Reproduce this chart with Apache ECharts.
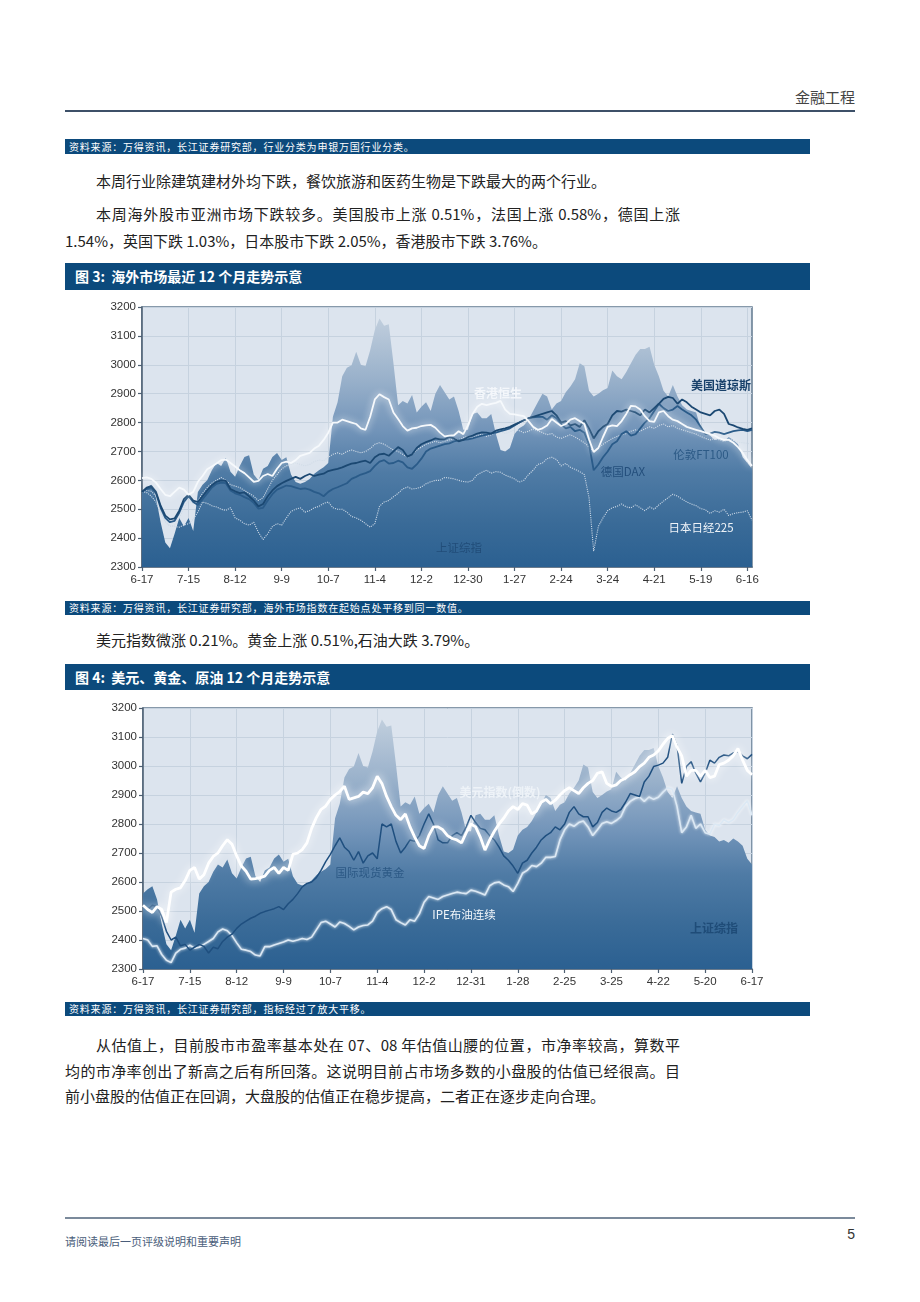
<!DOCTYPE html>
<html><head><meta charset="utf-8">
<script src="https://cdn.jsdelivr.net/npm/echarts@6/dist/echarts.min.js"></script>
<style>
html,body{margin:0;padding:0;background:#fff;}
body{width:920px;height:1302px;position:relative;overflow:hidden;font-family:"Noto Sans CJK SC","Liberation Sans",sans-serif;color:#222;}
.abs{position:absolute;}
.bar{position:absolute;left:65px;width:745px;background:#0c4a7c;color:#fff;box-sizing:border-box;}
.src{height:15px;line-height:15px;font-size:10px;padding-left:4px;letter-spacing:0.8px;}
.ttl{height:27px;line-height:27px;font-size:14px;font-weight:bold;padding-left:10px;}
.p{position:absolute;left:65px;font-size:15px;white-space:nowrap;}
.j{width:615px;text-align:justify;text-align-last:justify;}
</style></head>
<body>
<div class="abs" style="right:65px;top:86px;font-size:15px;color:#444;">金融工程</div>
<div class="abs" style="left:65px;top:110px;width:790px;height:1.5px;background:#3d5068;"></div>
<div class="bar src" style="top:139px;">资料来源：万得资讯，长江证券研究部，行业分类为申银万国行业分类。</div>
<div class="p" style="top:170px;padding-left:31px;">本周行业除建筑建材外均下跌，餐饮旅游和医药生物是下跌最大的两个行业。</div>
<div class="p j" style="top:203px;padding-left:31px;width:584px;">本周海外股市亚洲市场下跌较多。美国股市上涨 0.51%，法国上涨 0.58%，德国上涨</div>
<div class="p" style="top:230px;">1.54%，英国下跌 1.03%，日本股市下跌 2.05%，香港股市下跌 3.76%。</div>
<div class="bar ttl" style="top:263px;">图 3:&nbsp; 海外市场最近 12 个月走势示意</div>
<div id="c1" class="abs" style="left:60px;top:295px;width:740px;height:300px;"></div>
<div class="bar src" style="top:601px;height:14px;line-height:14px;">资料来源：万得资讯，长江证券研究部，海外市场指数在起始点处平移到同一数值。</div>
<div class="p" style="top:629px;padding-left:31px;">美元指数微涨 0.21%。黄金上涨 0.51%,石油大跌 3.79%。</div>
<div class="bar ttl" style="top:664px;height:26px;line-height:26px;">图 4:&nbsp; 美元、黄金、原油 12 个月走势示意</div>
<div id="c2" class="abs" style="left:60px;top:695px;width:740px;height:300px;"></div>
<div class="bar src" style="top:1002px;height:14px;line-height:14px;">资料来源：万得资讯，长江证券研究部，指标经过了放大平移。</div>
<div class="p j" style="top:1034px;padding-left:31px;width:584px;">从估值上，目前股市市盈率基本处在 07、08 年估值山腰的位置，市净率较高，算数平</div>
<div class="p j" style="top:1060px;">均的市净率创出了新高之后有所回落。这说明目前占市场多数的小盘股的估值已经很高。目</div>
<div class="p" style="top:1085px;">前小盘股的估值正在回调，大盘股的估值正在稳步提高，二者正在逐步走向合理。</div>
<div class="abs" style="left:65px;top:1217px;width:790px;height:1.5px;background:#7b8a9b;"></div>
<div class="abs" style="left:65px;top:1233px;font-size:11px;color:#4a5d7a;">请阅读最后一页评级说明和重要声明</div>
<div class="abs" style="right:65px;top:1226px;font-size:14px;color:#333;font-family:'Liberation Sans';">5</div>
<script>
// ---------- data ----------
const tickLabels1 = ['6-17','7-15','8-12','9-9','10-7','11-4','12-2','12-30','1-27','2-24','3-24','4-21','5-19','6-16'];
const tickLabels2 = ['6-17','7-15','8-12','9-9','10-7','11-4','12-2','12-31','1-28','2-25','3-25','4-22','5-20','6-17'];

const shComposite = [
2560,2575,2585,2540,2455,2385,2365,2415,2470,2440,
2470,2425,2560,2585,2600,2635,2660,2650,2678,2630,
2612,2650,2681,2687,2620,2600,2640,2650,2681,2695,
2670,2680,2620,2594,2588,2594,2605,2623,2635,2645,
2660,2820,2870,2960,2990,2998,3045,3000,2995,3050,
3120,3160,3135,3140,3005,2860,2875,2866,2895,2835,
2855,2870,2840,2900,2930,2905,2880,2890,2840,2775,
2775,2830,2835,2815,2815,2830,2760,2705,2700,2712,
2760,2780,2790,2810,2840,2870,2900,2890,2845,2866,
2875,2905,2925,2950,3005,2995,2910,2890,2900,2912,
2920,2980,2960,2950,2975,3005,3035,3055,3055,3062,
3000,2960,2910,2890,2930,2890,2860,2845,2840,2835,
2780,2760,2755,2740,2745,2735,2750,2740,2725,2680,
2660,2640];

const hangSeng = [
2608,2610,2605,2592,2570,2550,2545,2560,2575,2568,
2550,2560,2595,2615,2638,2648,2658,2670,2672,2660,
2648,2635,2625,2610,2595,2598,2615,2622,2615,2640,
2660,2665,2660,2670,2685,2690,2695,2710,2720,2740,
2765,2800,2800,2810,2805,2800,2795,2780,2775,2820,
2880,2898,2888,2880,2835,2812,2788,2772,2780,2782,
2788,2790,2792,2782,2765,2752,2755,2756,2770,2760,
2790,2830,2855,2865,2860,2865,2868,2875,2845,2830,
2828,2825,2822,2805,2785,2775,2780,2790,2812,2800,
2788,2795,2810,2815,2805,2795,2742,2698,2712,2750,
2785,2790,2788,2805,2830,2858,2856,2845,2822,2805,
2802,2835,2840,2822,2810,2805,2795,2785,2780,2775,
2770,2765,2760,2755,2745,2740,2740,2730,2715,2695,
2670,2650];

const dowJones = [
2560,2575,2580,2560,2512,2478,2465,2468,2495,2535,
2550,2530,2525,2545,2565,2583,2595,2600,2598,2570,
2562,2556,2558,2545,2530,2510,2518,2545,2565,2580,
2590,2598,2605,2612,2605,2615,2622,2615,2620,2623,
2632,2636,2640,2645,2652,2658,2660,2665,2668,2660,
2680,2690,2692,2685,2700,2715,2705,2682,2690,2712,
2725,2732,2738,2745,2742,2742,2750,2745,2735,2740,
2750,2755,2762,2766,2765,2762,2772,2776,2780,2785,
2793,2800,2808,2815,2820,2825,2830,2835,2840,2825,
2800,2805,2790,2795,2785,2808,2780,2745,2770,2785,
2795,2825,2840,2838,2845,2840,2835,2825,2845,2835,
2850,2865,2882,2889,2885,2865,2880,2870,2855,2845,
2835,2830,2825,2840,2845,2830,2795,2790,2783,2778,
2775,2780];

const dax = [
2560,2570,2575,2555,2505,2470,2455,2460,2488,2525,
2545,2525,2515,2535,2555,2575,2588,2592,2590,2565,
2555,2550,2542,2535,2522,2502,2505,2530,2552,2568,
2575,2582,2580,2575,2570,2572,2568,2560,2555,2545,
2560,2570,2576,2583,2590,2605,2612,2620,2625,2632,
2650,2665,2670,2658,2660,2668,2662,2645,2640,2655,
2675,2700,2710,2715,2720,2725,2728,2735,2738,2740,
2742,2745,2750,2755,2758,2762,2765,2770,2775,2780,
2790,2800,2808,2815,2818,2820,2820,2810,2825,2815,
2795,2780,2785,2770,2775,2765,2725,2635,2655,2680,
2700,2725,2735,2760,2770,2755,2760,2780,2800,2815,
2840,2865,2850,2840,2845,2857,2845,2835,2825,2810,
2785,2760,2762,2768,2765,2760,2765,2770,2773,2775,
2770,2775];

const ftse100 = [
2560,2565,2562,2545,2490,2455,2440,2445,2470,2505,
2530,2520,2530,2555,2575,2590,2600,2610,2600,2585,
2580,2575,2565,2555,2545,2530,2540,2570,2600,2620,
2640,2650,2655,2660,2655,2650,2655,2665,2670,2668,
2680,2690,2695,2690,2700,2705,2700,2695,2700,2710,
2725,2730,2725,2715,2705,2700,2690,2680,2690,2705,
2715,2725,2730,2735,2730,2735,2740,2745,2740,2748,
2752,2748,2755,2760,2752,2758,2765,2770,2762,2768,
2775,2772,2765,2770,2778,2772,2765,2758,2762,2750,
2745,2752,2758,2750,2740,2730,2715,2700,2712,2725,
2735,2745,2752,2758,2762,2770,2775,2770,2778,2785,
2780,2790,2795,2785,2790,2780,2775,2770,2765,2760,
2752,2745,2740,2745,2740,2735,2742,2738,2732,2730,
2728,2725];

const nikkei225 = [
2560,2558,2545,2525,2490,2458,2442,2440,2438,2445,
2450,2465,2490,2525,2520,2512,2508,2500,2496,2505,
2470,2462,2450,2445,2455,2420,2395,2415,2440,2450,
2445,2470,2492,2500,2505,2490,2495,2505,2510,2520,
2525,2505,2500,2500,2490,2475,2470,2462,2450,2438,
2450,2510,2525,2530,2543,2555,2570,2577,2570,2572,
2577,2588,2595,2600,2600,2610,2608,2605,2600,2596,
2594,2600,2620,2628,2635,2625,2630,2628,2618,2612,
2605,2594,2600,2620,2635,2655,2660,2675,2680,2672,
2650,2658,2645,2638,2630,2620,2540,2355,2440,2470,
2495,2505,2510,2518,2508,2505,2515,2505,2495,2508,
2500,2515,2528,2540,2552,2545,2535,2525,2518,2512,
2502,2498,2485,2495,2490,2500,2478,2485,2488,2490,
2495,2462];

const usdIndexInv = [
2520,2505,2495,2515,2505,2460,2565,2575,2580,2605,
2640,2650,2610,2625,2665,2688,2700,2725,2746,2730,
2690,2655,2637,2610,2612,2615,2620,2640,2650,2630,
2650,2640,2695,2700,2712,2735,2785,2822,2850,2862,
2885,2900,2912,2930,2885,2890,2895,2910,2905,2925,
2965,2940,2895,2860,2830,2815,2835,2790,2755,2725,
2715,2760,2790,2790,2780,2760,2750,2745,2735,2770,
2800,2790,2755,2710,2745,2775,2800,2820,2845,2860,
2850,2870,2865,2835,2845,2875,2885,2870,2882,2900,
2915,2925,2915,2905,2925,2940,2950,2975,2980,2940,
2930,2935,2950,2958,2970,2980,2998,3010,3030,3038,
3052,3075,3095,3105,3065,3035,2965,2985,2985,2965,
2985,2960,2965,3005,3010,3020,3035,3060,3020,2985,
2970];

const spotGold = [
2515,2505,2520,2515,2480,2430,2400,2410,2380,2385,
2365,2375,2385,2378,2355,2375,2370,2395,2410,2420,
2440,2455,2465,2475,2482,2492,2498,2503,2508,2515,
2505,2525,2540,2560,2583,2595,2600,2615,2640,2670,
2695,2725,2752,2720,2705,2675,2705,2665,2690,2700,
2680,2800,2790,2800,2740,2700,2720,2745,2740,2760,
2800,2835,2800,2745,2735,2735,2760,2770,2760,2790,
2830,2805,2785,2780,2760,2745,2720,2690,2675,2655,
2630,2665,2675,2700,2720,2745,2760,2770,2790,2780,
2800,2840,2860,2835,2825,2825,2790,2805,2840,2855,
2845,2840,2850,2875,2905,2900,2895,2945,2965,2998,
3003,3010,3030,3110,3070,2940,2998,3015,2975,2945,
2975,3020,3010,3030,3038,3035,3045,3050,3035,3025,
3040];

const ipeBrent = [
2405,2400,2378,2380,2350,2330,2322,2355,2368,2372,
2382,2372,2375,2385,2395,2405,2428,2438,2432,2415,
2390,2368,2365,2360,2348,2345,2377,2377,2383,2388,
2393,2400,2396,2400,2405,2402,2410,2435,2460,2465,
2455,2445,2462,2457,2447,2435,2445,2450,2452,2465,
2495,2508,2515,2505,2470,2460,2452,2470,2465,2490,
2530,2550,2545,2540,2550,2555,2560,2565,2562,2560,
2572,2568,2562,2555,2587,2597,2600,2590,2584,2567,
2595,2630,2640,2657,2653,2665,2685,2685,2688,2745,
2780,2800,2792,2805,2810,2790,2760,2780,2802,2808,
2802,2812,2825,2860,2878,2888,2893,2878,2893,2885,
2892,2910,2925,2920,2860,2770,2790,2830,2785,2800,
2770,2765,2800,2795,2815,2805,2815,2840,2860,2880,
2830];

// ---------- helpers ----------
const CJK = '"Noto Sans CJK SC", sans-serif';
const areaGradient = {type:'linear', x:0, y:0, x2:0, y2:1, colorStops:[
  {offset:0, color:'#c0cedd'},{offset:0.25, color:'#98b0ca'},{offset:0.45, color:'#7294b9'},
  {offset:0.62, color:'#4f7ba5'},{offset:0.82, color:'#3a6b98'},{offset:1, color:'#2b6091'}]};

function baseOption(n, tickLabels, grid) {
  const cats = Array.from({length:n}, (_, i) => String(i));
  const every10 = (i) => i % 10 === 0;
  return {
    animation:false,
    grid: Object.assign({show:true, backgroundColor:'#dce4ee', borderColor:'#60788f', borderWidth:1.5}, grid),
    xAxis: {type:'category', data:cats, boundaryGap:false,
      axisLine:{lineStyle:{color:'#4d5f72', width:1.5}},
      axisTick:{interval:every10, length:4, lineStyle:{color:'#4d5f72', width:1.2}},
      axisLabel:{interval:every10, formatter:(v, i) => tickLabels[i/10] || '', color:'#333', fontSize:11.5, fontFamily:'Liberation Sans', margin:7},
      splitLine:{show:true, interval:every10, lineStyle:{color:'#c6d2df', width:1}}},
    yAxis: {type:'value', min:2300, max:3200, interval:100,
      axisLine:{show:true, lineStyle:{color:'#4d5f72', width:1.5}},
      axisTick:{show:true, length:4, lineStyle:{color:'#4d5f72', width:1.2}},
      axisLabel:{color:'#333', fontSize:11.5, fontFamily:'Liberation Sans', margin:6, formatter:(v) => String(v)},
      splitLine:{lineStyle:{color:'#c6d2df', width:1}}},
  };
}
function areaSeries(name, data) {
  return {name, type:'line', data, showSymbol:false, symbol:'none', lineStyle:{width:0, opacity:0},
    areaStyle:{color:areaGradient, opacity:1}, z:1};
}
function lineSeries(name, data, color, width, type, glow, z) {
  const ls = {color, width, type:type || 'solid'};
  if (glow) { ls.shadowBlur = glow; ls.shadowColor = 'rgba(255,255,255,0.95)'; }
  return {name, type:'line', data, showSymbol:false, symbol:'none', lineStyle:ls, z:z || 3};
}
function label(text, x, y, fill, size, weight, shadow) {
  const st = {text, fill, font:(weight||'normal') + ' ' + size + 'px ' + CJK, align:'center', verticalAlign:'middle'};
  if (shadow) { st.shadowBlur = 3; st.shadowColor = shadow; st.shadowOffsetX = 1; st.shadowOffsetY = 1; }
  return {type:'text', x, y, z:100, style:st};
}

// ---------- chart 1 ----------
const c1 = echarts.init(document.getElementById('c1'), null, {renderer:'canvas'});
const o1 = baseOption(shComposite.length, tickLabels1, {left:82, top:12, width:610, height:260});
o1.series = [
  areaSeries('上证综指', shComposite),
  lineSeries('日本日经225', nikkei225, '#cbd8e6', 1.1, 'dotted', 0, 3),
  lineSeries('伦敦FT100', ftse100, '#d0dbe7', 1.1, 'dotted', 0, 3),
  lineSeries('德国DAX', dax, '#2a5b89', 1.8, 'solid', 0, 4),
  lineSeries('美国道琼斯', dowJones, '#1b4872', 1.8, 'solid', 0, 4),
  lineSeries('香港恒生', hangSeng, '#f6f9fc', 1.8, 'solid', 7, 5),
];
o1.graphic = [
  label('香港恒生', 438, 98, '#f4f7fb', 12, 'bold', 'rgba(40,60,90,0.8)'),
  label('美国道琼斯', 661, 90, '#17406a', 12, 'bold', 'rgba(255,255,255,0.8)'),
  label('伦敦FT100', 641, 160, '#2c5a86', 11.5, 'normal', 'rgba(255,255,255,0.6)'),
  label('德国DAX', 563, 177, '#244f7c', 11.5, 'normal', 'rgba(255,255,255,0.5)'),
  label('日本日经225', 641, 233, '#eef3f8', 11.5, 'normal', 'rgba(20,50,80,0.6)'),
  label('上证综指', 399, 253, '#214d79', 11.5, 'normal', null),
];
c1.setOption(o1);

// ---------- chart 2 ----------
const sh2 = shComposite.slice(0, usdIndexInv.length);
const c2 = echarts.init(document.getElementById('c2'), null, {renderer:'canvas'});
const o2 = baseOption(usdIndexInv.length, tickLabels2, {left:83, top:13, width:609, height:261});
o2.series = [
  areaSeries('上证综指', sh2),
  lineSeries('IPE布油连续', ipeBrent, '#dbe8f4', 1.6, 'solid', 3, 3),
  lineSeries('国际现货黄金', spotGold, '#1f4f7f', 1.5, 'solid', 0, 4),
  lineSeries('美元指数(倒数)', usdIndexInv, '#ffffff', 2.8, 'solid', 9, 5),
];
o2.graphic = [
  label('美元指数(倒数)', 440, 97, '#eef3f8', 12, 'bold', 'rgba(60,80,110,0.8)'),
  label('国际现货黄金', 310, 178, '#2c5985', 11.5, 'normal', 'rgba(255,255,255,0.5)'),
  label('IPE布油连续', 404, 220, '#f2f6fa', 11.5, 'normal', 'rgba(20,50,80,0.5)'),
  label('上证综指', 654, 233, '#1f4c78', 12, 'bold', null),
];
c2.setOption(o2);
</script>
</body></html>
